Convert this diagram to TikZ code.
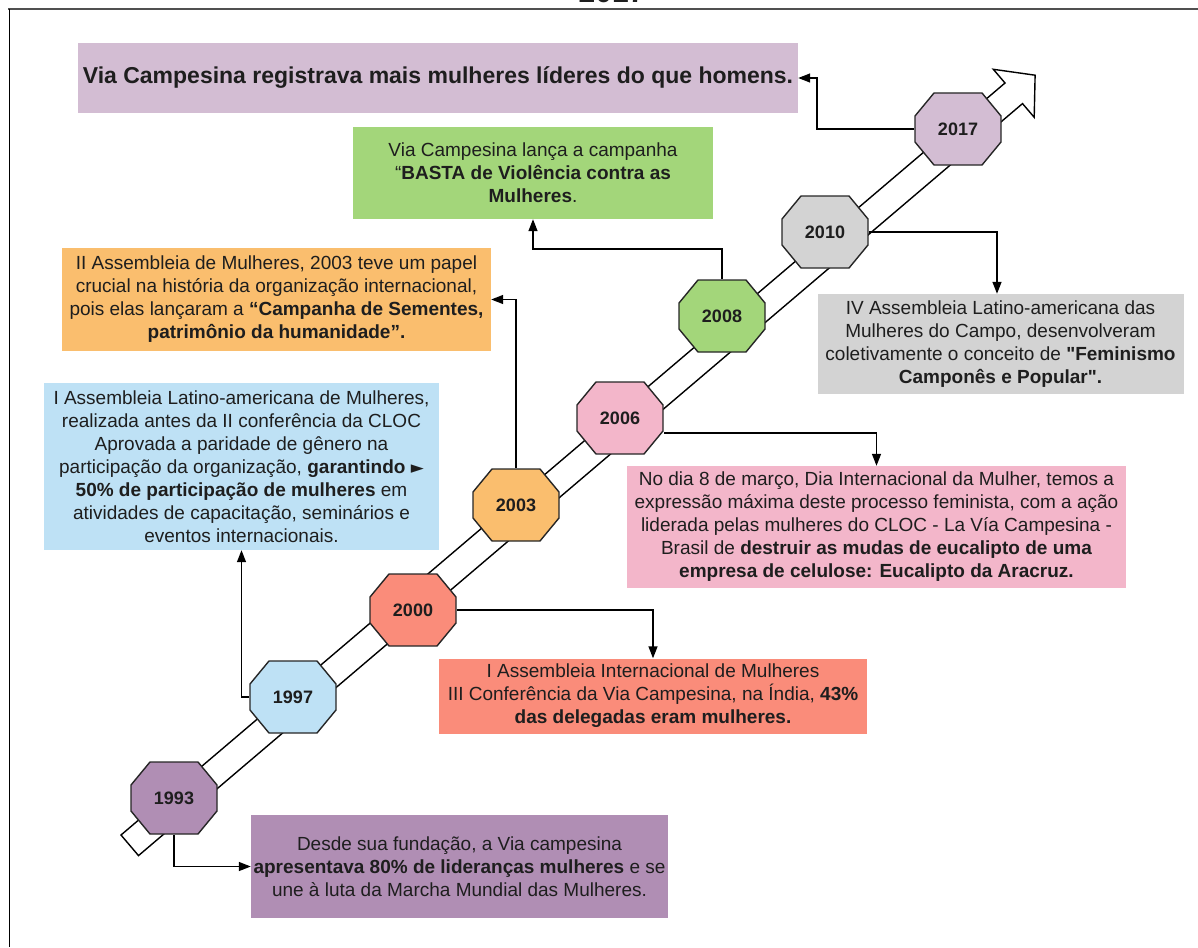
\documentclass[tikz,border=0pt]{standalone}
\usepackage{fontspec}
\setmainfont{Liberation Sans}
\newfontfamily\symfnt{DejaVu Sans}
\usetikzlibrary{arrows.meta,calc}
\definecolor{clilac}{HTML}{D3BDD3}
\definecolor{cgreen}{HTML}{A3D67A}
\definecolor{corange}{HTML}{FABE6E}
\definecolor{cblue}{HTML}{BEE1F5}
\definecolor{cgray}{HTML}{D3D3D3}
\definecolor{cpink}{HTML}{F3B6CA}
\definecolor{csalmon}{HTML}{FA8C7A}
\definecolor{cpurple}{HTML}{B08EB4}
\definecolor{txt}{HTML}{1E1E1E}
\definecolor{framec}{HTML}{505050}
\newcommand\bxfont{\fontsize{19}{23}\selectfont}
\begin{document}
\begin{tikzpicture}[x=1pt,y=1pt,
  box/.style={rectangle, fill=#1, inner sep=0pt, align=center, text=txt, font=\bxfont},
  octline/.style={line width=1.4pt, draw=black!85},
  yr/.style={rectangle, minimum width=88pt, minimum height=74pt, inner sep=0pt,
    text=txt, font=\fontsize{18}{18}\selectfont\bfseries,
    path picture={\draw[octline, fill=#1]
      ($(path picture bounding box.center)+(-24,36)$) -- ++(48,0) -- ++(19,-23)
      -- ++(0,-26) -- ++(-19,-23) -- ++(-48,0) -- ++(-19,23) -- ++(0,26) -- cycle;}},
  conn/.style={line width=1.4pt, draw=black, -{Triangle[length=12pt,width=9pt]}},
  band/.style={line width=1.4pt, draw=black, fill=white, line join=miter}
]
\useasboundingbox (0,0) rectangle (1198,-947);

% frame
\draw[line width=2.2pt, draw=framec] (8,-9) -- (1198,-9);
\draw[line width=1pt, draw=black] (9.5,-9) -- (9.5,-947);
\node[anchor=base, font=\fontsize{30}{30}\selectfont\bfseries, text=txt, inner sep=0pt] (ttl) at (612,-3) {2017};

% hollow timeline arrow
\draw[band] (121,-835) -- (1005,-83) -- (993.3,-69.3) -- (1035.1,-75.2)
  -- (1034.2,-117.3) -- (1022.5,-103.6) -- (138.5,-855.6) -- cycle;

% year octagons
\node[yr=clilac]  (y2017) at (958,-129) {2017};
\node[yr=cgray]   (y2010) at (825,-232) {2010};
\node[yr=cgreen]  (y2008) at (722,-316) {2008};
\node[yr=cpink]   (y2006) at (620,-418) {2006};
\node[yr=corange] (y2003) at (516,-505) {2003};
\node[yr=csalmon] (y2000) at (413,-610) {2000};
\node[yr=cblue]   (y1997) at (293,-697) {1997};
\node[yr=cpurple] (y1993) at (174,-798) {1993};

% text boxes
\node[box=clilac, minimum width=720pt, minimum height=70pt, font=\fontsize{23}{27}\selectfont] (b2017) at (438,-78)
  {\textbf{Via Campesina registrava mais mulheres líderes do que homens.}};

\node[box=cgreen, minimum width=360pt, minimum height=92pt] (b2008) at (533,-173)
  {Via Campesina lança a campanha\\
   “\textbf{BASTA de Violência contra as}\\
   \textbf{Mulheres}.};

\node[box=corange, minimum width=429pt, minimum height=103pt] (b2003) at (276.5,-299.5)
  {II Assembleia de Mulheres, 2003 teve um papel\\
   crucial na história da organização internacional,\\
   pois elas lançaram a \textbf{“Campanha de Sementes,}\\
   \textbf{patrimônio da humanidade”.}};

\node[box=cblue, minimum width=395pt, minimum height=167pt] (b1997) at (241.5,-466.5)
  {I Assembleia Latino-americana de Mulheres,\\
   realizada antes da II conferência da CLOC\\
   Aprovada a paridade de gênero na\\
   participação da organização, \textbf{garantindo} {\symfnt\fontsize{17}{17}\selectfont ►}\\
   \textbf{50\% de participação de mulheres} em\\
   atividades de capacitação, seminários e\\
   eventos internacionais.};

\node[box=cgray, minimum width=366pt, minimum height=100pt] (b2010) at (1000.5,-344)
  {IV Assembleia Latino-americana das\\
   Mulheres do Campo, desenvolveram\\
   coletivamente o conceito de \textbf{\textquotedbl Feminismo}\\
   \textbf{Camponês e Popular\textquotedbl.}};

\node[box=cpink, minimum width=499pt, minimum height=122pt] (b2006) at (876.5,-527)
  {No dia 8 de março, Dia Internacional da Mulher, temos a\\
   expressão máxima deste processo feminista, com a ação\\
   liderada pelas mulheres do CLOC - La Vía Campesina -\\
   Brasil de \textbf{destruir as mudas de eucalipto de uma}\\
   \textbf{empresa de celulose: Eucalipto da Aracruz.}};

\node[box=csalmon, minimum width=428pt, minimum height=75pt] (b2000) at (653,-696)
  {I Assembleia Internacional de Mulheres\\
   III Conferência da Via Campesina, na Índia, \textbf{43\%}\\
   \textbf{das delegadas eram mulheres.}};

\node[box=cpurple, minimum width=417pt, minimum height=103pt] (b1993) at (459.5,-866.5)
  {Desde sua fundação, a Via campesina\\
   \textbf{apresentava 80\% de lideranças mulheres} e se\\
   une à luta da Marcha Mundial das Mulheres.};

% connectors
\draw[conn] (y2017.west) -- ++(-97,0) |- (b2017.east);
\draw[conn] (y2010.east) -| ([xshift=-3.5pt]b2010.north);
\draw[conn] (y2008.north) -- ++(0,30) -| (b2008.south);
\draw[conn] (y2003.north) |- (b2003.east);
\draw[conn] (y1997.west) -| (b1997.south);
\draw[conn] ([yshift=-15pt]y2006.east) -| (b2006.north);
\draw[conn] (y2000.east) -| (b2000.north);
\draw[conn] (y1993.south) |- (b1993.west);
\end{tikzpicture}
\end{document}
